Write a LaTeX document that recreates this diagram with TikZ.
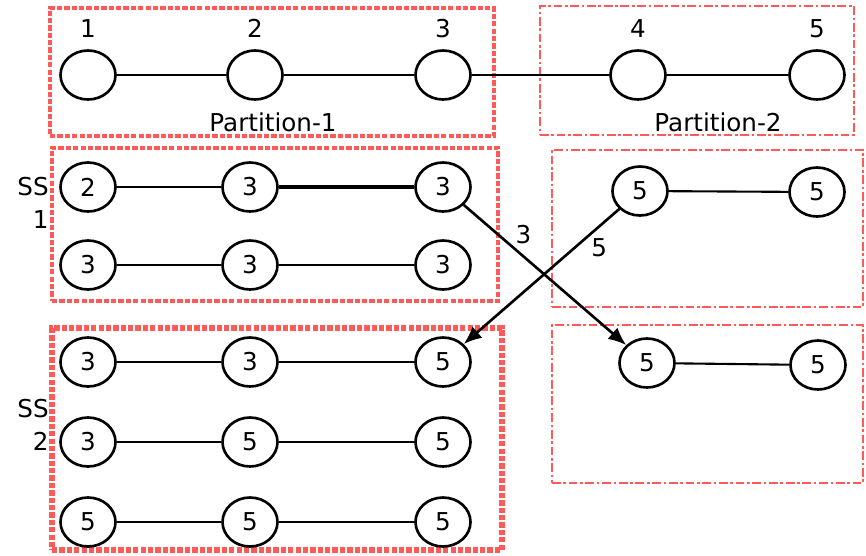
\documentclass[tikz,border=0pt]{standalone}
\usepackage{fontspec}
\setmainfont{DejaVu Sans}
\usepackage{xcolor}
\usepackage{tikz}
\usetikzlibrary{
  positioning,
  arrows.meta,
  shapes.geometric,
  fit,
  backgrounds
}
\definecolor{boxred}{RGB}{255,90,90}
\tikzset{
  >=Latex,
  vertex/.style={ellipse,draw,line width=1.5pt,minimum width=11mm,minimum height=9.8mm,inner sep=0pt},
  link/.style={line width=1.2pt},
  movearrow/.style={-{Latex[length=3.6mm,width=3mm]},line width=1.5pt},
  partbox/.style={draw=boxred,line width=2pt,dash pattern=on 3pt off 1.2pt,inner sep=0pt},
  dotbox/.style={draw=boxred,line width=1.6pt,dash pattern=on 5pt off 1.5pt on 1.5pt off 1.5pt,inner sep=0pt},
  sslabel/.style={align=right,anchor=east,inner sep=0pt}
}

\begin{document}
\begin{tikzpicture}[font=\fontsize{14}{18.5}\selectfont]
    \useasboundingbox (0,0) rectangle (17.32,-11.1);

    % Grafo original (fila superior)
    \node[vertex,label={[label distance=1mm]above:1}] (n1) at (1.76,-1.5) {};
    \node[vertex,label={[label distance=1mm]above:2}] (n2) at (5.10,-1.5) {};
    \node[vertex,label={[label distance=1mm]above:3}] (n3) at (8.86,-1.5) {};
    \node[vertex,label={[label distance=1mm]above:4}] (n4) at (12.76,-1.5) {};
    \node[vertex,label={[label distance=1mm]above:5}] (n5) at (16.34,-1.5) {};
    \node (p1lbl) at (5.46,-2.44) {Partition-1};
    \node (p2lbl) at (14.36,-2.44) {Partition-2};
    \draw[link] (n1) -- (n2) -- (n3) -- (n4) -- (n5);

    % Superstep 1
    \node[vertex] (a1) at (1.76,-3.74) {2};
    \node[vertex] (a2) at (5.00,-3.74) {3};
    \node[vertex] (a3) at (8.86,-3.74) {3};
    \node[vertex] (b1) at (1.76,-5.30) {3};
    \node[vertex] (b2) at (5.00,-5.30) {3};
    \node[vertex] (b3) at (8.86,-5.30) {3};
    \node[vertex] (r1) at (12.80,-3.82) {5};
    \node[vertex] (r2) at (16.34,-3.84) {5};
    \node[sslabel] (ss1lbl) at (0.98,-4.06) {SS\\1};
    \draw[link] (a1) -- (a2);
    \draw[link,line width=2.4pt] (a2) -- (a3);
    \draw[link] (b1) -- (b2) -- (b3);
    \draw[link] (r1) -- (r2);

    % Superstep 2
    \foreach \r/\y/\u/\v/\w in {c/-7.24/3/3/5, d/-8.84/3/5/5, e/-10.44/5/5/5} {
        \node[vertex] (\r1) at (1.76,\y) {\u};
        \node[vertex] (\r2) at (5.00,\y) {\v};
        \node[vertex] (\r3) at (8.86,\y) {\w};
        \draw[link] (\r1) -- (\r2) -- (\r3);
    }
    \node[vertex] (q1) at (12.94,-7.26) {5};
    \node[vertex] (q2) at (16.36,-7.30) {5};
    \node[sslabel] (ss2lbl) at (0.98,-8.50) {SS\\2};
    \draw[link] (q1) -- (q2);

    % Mensajes entre particiones
    \draw[movearrow] (a3) -- node[pos=0.3,above right,inner sep=1pt] {3} (q1);
    \draw[movearrow] (r1) -- node[pos=0.2,below right,inner sep=1pt] {5} (c3);

    % Cajas de particiones
    \begin{scope}[on background layer]
        \node[partbox,fit={(1.00,-0.16) (9.88,-2.72)}] (part1) {};
        \node[dotbox,fit={(10.80,-0.12) (17.08,-2.70)}] (part2) {};
        \node[partbox,fit={(1.04,-2.96) (9.96,-6.02)}] (ss1) {};
        \node[dotbox,fit={(11.04,-3.00) (17.26,-6.14)}] (rest1) {};
        \node[partbox,line width=3.2pt,fit={(1.04,-6.56) (10.04,-11.00)}] (ss2) {};
        \node[dotbox,fit={(11.04,-6.50) (17.26,-9.66)}] (rest2) {};
    \end{scope}
\end{tikzpicture}
\end{document}
